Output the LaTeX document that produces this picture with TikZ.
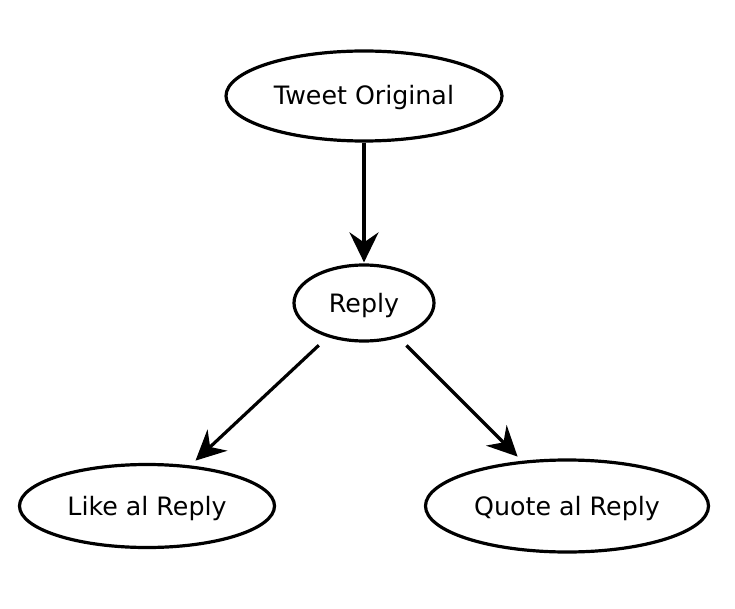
\documentclass[tikz,border=0pt]{standalone}
\usepackage{fontspec}
\setmainfont{DejaVu Sans}
\usetikzlibrary{arrows.meta,shapes.geometric}

\begin{document}
\begin{tikzpicture}[x=1pt, y=-1pt, >={Stealth[length=30pt, width=29pt, inset=10pt]},
  post/.style={ellipse, draw, line width=3.2pt, inner sep=0pt,
    text height=18pt, text depth=0pt, font=\fontsize{25.3}{30}\selectfont},
  link/.style={->, line width=3.2pt}]
\useasboundingbox (0,0) rectangle (735,609);
% --- Nodes ---
\node[post, minimum width=276pt, minimum height=90pt] (tweet) at (364,96) {Tweet Original};
\node[post, minimum width=140pt, minimum height=76pt] (reply) at (364,303) {Reply};
\node[post, minimum width=255pt, minimum height=83pt] (like) at (147,506) {Like al Reply};
\node[post, minimum width=283pt, minimum height=92pt] (quote) at (567,506) {Quote al Reply};
% --- Connectors ---
\draw[link, shorten >=1pt] (tweet) -- (reply);
\draw[link, shorten <=12pt, shorten >=7pt] (reply) -- (like);
\draw[link, shorten <=11pt, shorten >=6pt] (reply) -- (quote);
\end{tikzpicture}
\end{document}
